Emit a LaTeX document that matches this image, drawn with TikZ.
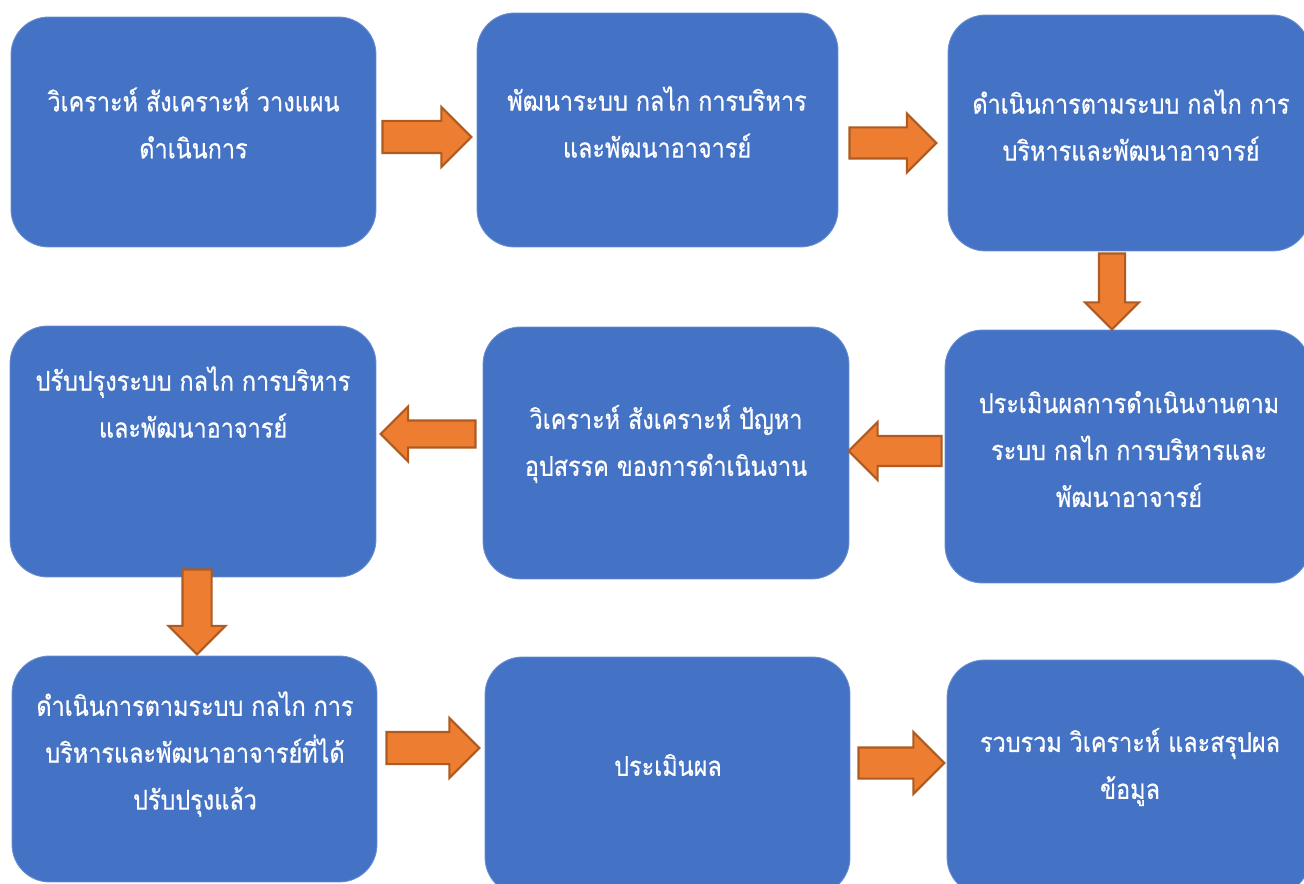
\documentclass[tikz,border=0pt]{standalone}
\usepackage{fontspec}
\newfontfamily\thaifont[Script=Thai,FakeStretch=0.86,FakeBold=0.6]{Loma}
\usepackage{tikz}
\usetikzlibrary{shapes.arrows,calc}
\definecolor{boxblue}{HTML}{4472C4}
\definecolor{arrfill}{HTML}{ED7D31}
\definecolor{arrline}{HTML}{AE5A21}
\tikzset{
  box/.style={fill=boxblue, draw=boxblue!80!white, line width=0.5pt, rounded corners=0.75cm, inner sep=0pt},
  txt/.style={text=white, align=center, font=\thaifont\fontsize{15.5}{26.7}\selectfont},
  barrow/.style={single arrow, fill=arrfill, draw=arrline, line width=1.2pt, inner sep=0pt, anchor=tail,
    single arrow tip angle=90, single arrow head extend=0.28cm}
}
\begin{document}
\begin{tikzpicture}[x=0.02cm,y=-0.02cm]
    \useasboundingbox (0,0) rectangle (1304,884);
    % boxes
    \node[box, minimum width=7.30cm, minimum height=4.60cm] (a) at (193.5,132) {};
    \node[box, minimum width=7.22cm, minimum height=4.68cm] (b) at (657.5,130) {};
    \node[box, minimum width=7.24cm, minimum height=4.72cm] (c) at (1129,133) {};
    \node[box, minimum width=7.32cm, minimum height=5.02cm] (d) at (193,451.5) {};
    \node[box, minimum width=7.32cm, minimum height=5.04cm] (e) at (666,453) {};
    \node[box, minimum width=7.30cm, minimum height=5.06cm] (f) at (1127.5,456.5) {};
    \node[box, minimum width=7.30cm, minimum height=4.52cm] (g) at (194.5,769) {};
    \node[box, minimum width=7.30cm, minimum height=4.76cm] (h) at (667.5,776) {};
    \node[box, minimum width=7.26cm, minimum height=4.70cm] (i) at (1128.5,777.5) {};
    % texts
    \node[txt] (a-t) at (193.5,123) {วิเคราะห์ สังเคราะห์ วางแผน\\ดำเนินการ};
    \node[txt] (b-t) at (657,122) {พัฒนาระบบ กลไก การบริหาร\\และพัฒนาอาจารย์};
    \node[txt] (c-t) at (1131,125) {ดำเนินการตามระบบ กลไก การ\\บริหารและพัฒนาอาจารย์};
    \node[txt] (d-t) at (193,402) {ปรับปรุงระบบ กลไก การบริหาร\\และพัฒนาอาจารย์};
    \node[txt] (e-t) at (666,444) {วิเคราะห์ สังเคราะห์ ปัญหา\\อุปสรรค ของการดำเนินงาน};
    \node[txt] (f-t) at (1129,449) {ประเมินผลการดำเนินงานตาม\\ระบบ กลไก การบริหารและ\\พัฒนาอาจารย์};
    \node[txt] (g-t) at (195,754) {ดำเนินการตามระบบ กลไก การ\\บริหารและพัฒนาอาจารย์ที่ได้\\ปรับปรุงแล้ว};
    \node[txt] (h-t) at (668,765) {ประเมินผล};
    \node[txt] (i-t) at (1130,767) {รวบรวม วิเคราะห์ และสรุปผล\\ข้อมูล};
    % arrows (tail placed next to the source box)
    \node[barrow, minimum height=1.78cm, inner ysep=0.30cm] (ab) at ($(a.east)+(5,5)$) {};
    \node[barrow, minimum height=1.74cm, inner ysep=0.29cm] (bc) at ($(b.east)+(10,13)$) {};
    \node[barrow, minimum height=1.52cm, inner xsep=0.24cm, shape border rotate=270] (cf) at ($(c.south)+(-17,1)$) {};
    \node[barrow, minimum height=1.86cm, inner ysep=0.28cm, shape border rotate=180] (fe) at ($(f.west)+(-2,-5.5)$) {};
    \node[barrow, minimum height=1.90cm, inner ysep=0.25cm, shape border rotate=180] (ed) at ($(e.west)+(-6,-19)$) {};
    \node[barrow, minimum height=1.70cm, inner xsep=0.27cm, shape border rotate=270] (dg) at ($(d.south)+(4,-9)$) {};
    \node[barrow, minimum height=1.86cm, inner ysep=0.30cm] (gh) at ($(g.east)+(8,-21)$) {};
    \node[barrow, minimum height=1.72cm, inner ysep=0.29cm, single arrow head extend=0.31cm] (hi) at ($(h.east)+(7,-13)$) {};
\end{tikzpicture}
\end{document}
